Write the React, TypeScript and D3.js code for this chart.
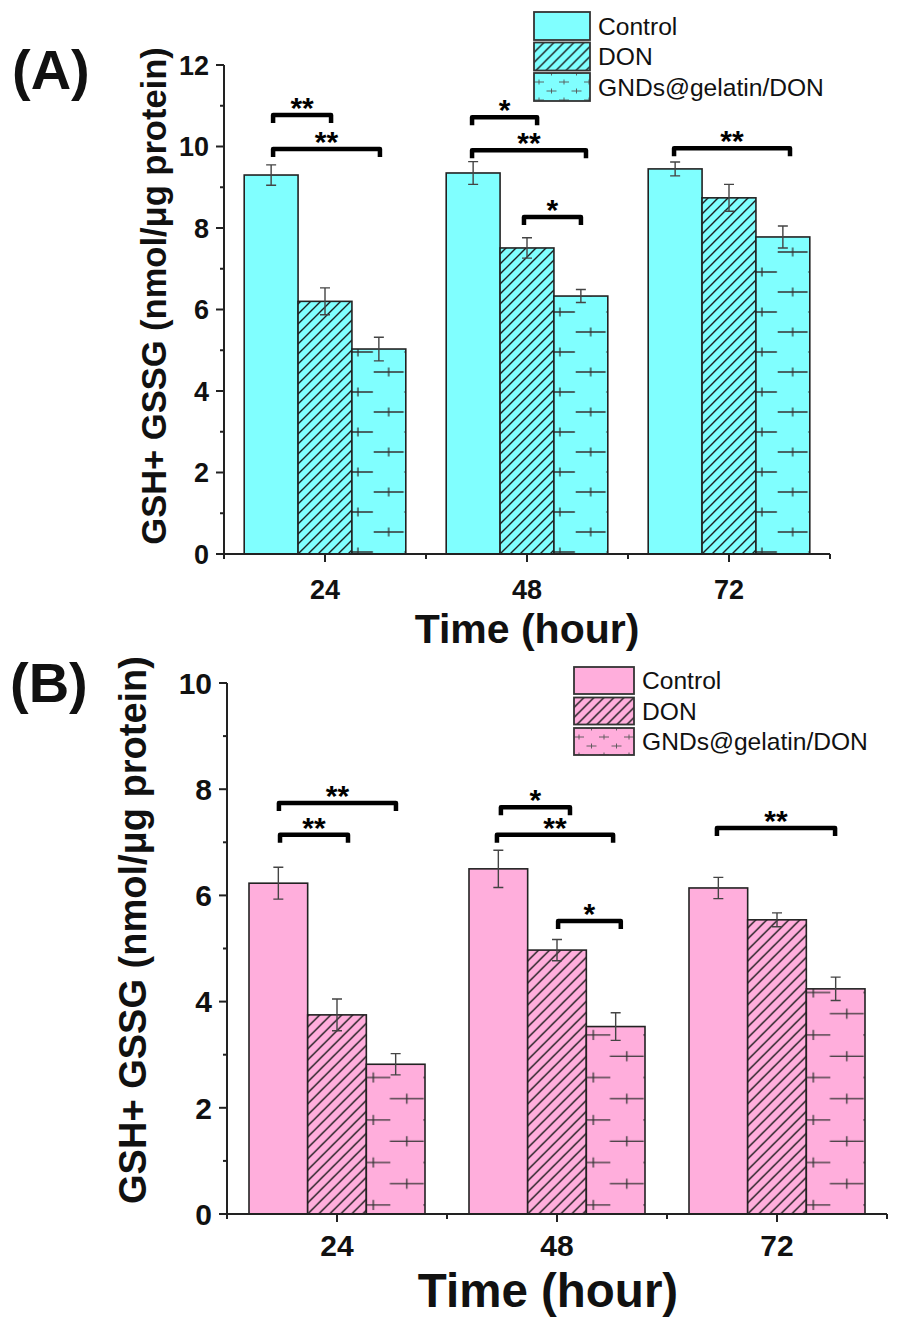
import React from 'react';
import * as d3 from 'd3';

// ---------- data ----------
const times = ['24', '48', '72'];
const seriesNames = ['Control', 'DON', 'GNDs@gelatin/DON'];

const aControl = [9.3, 9.35, 9.45];
const aControlErr = [0.25, 0.28, 0.17];
const aDON = [6.2, 7.51, 8.74];
const aDONErr = [0.33, 0.25, 0.33];
const aGND = [5.03, 6.33, 7.78];
const aGNDErr = [0.29, 0.16, 0.27];

const bControl = [6.23, 6.5, 6.14];
const bControlErr = [0.3, 0.35, 0.2];
const bDON = [3.75, 4.97, 5.54];
const bDONErr = [0.3, 0.2, 0.13];
const bGND = [2.82, 3.53, 4.24];
const bGNDErr = [0.2, 0.26, 0.22];

const aYTicks = [0, 2, 4, 6, 8, 10, 12];
const bYTicks = [0, 2, 4, 6, 8, 10];

// significance brackets: x in category units (24 -> 1, 48 -> 2, 72 -> 3), y in data units
const aSig = [
  { x1: 0.743, x2: 1.03, y: 10.77, label: '**' },
  { x1: 0.743, x2: 1.272, y: 9.94, label: '**' },
  { x1: 1.728, x2: 2.05, y: 10.72, label: '*' },
  { x1: 1.728, x2: 2.292, y: 9.91, label: '**' },
  { x1: 1.985, x2: 2.267, y: 8.27, label: '*' },
  { x1: 2.728, x2: 3.302, y: 9.96, label: '**' },
];
const bSig = [
  { x1: 0.741, x2: 1.05, y: 7.14, label: '**' },
  { x1: 0.736, x2: 1.268, y: 7.74, label: '**' },
  { x1: 1.745, x2: 2.059, y: 7.66, label: '*' },
  { x1: 1.727, x2: 2.255, y: 7.14, label: '**' },
  { x1: 2.005, x2: 2.29, y: 5.52, label: '*' },
  { x1: 2.727, x2: 3.264, y: 7.27, label: '**' },
];

const FONT = "'Liberation Sans', Arial, Helvetica, sans-serif";

type PanelCfg = {
  id: string;
  label: string;
  labelX: number;
  labelY: number;
  color: string;
  values: number[][];
  errors: number[][];
  yMax: number;
  yTicks: number[];
  sig: { x1: number; x2: number; y: number; label: string }[];
  xLeft: number;
  xRight: number;
  yBottom: number;
  yTop: number;
  tickFont: number;
  xTickDy: number;
  xTitleX: number;
  xTitleY: number;
  xTitleFont: number;
  yTitleX: number;
  yTitleY: number;
  yTitleFont: number;
  legendX: number;
  legendY: number;
  legendW: number;
  legendH: number;
  legendGap: number;
  hatch: number;
  crossW: number;
  crossH: number;
  crossDash: number;
  crossTick: number;
  crossX: number;
  crossYOff: number;
};

function crossPath(W: number, H: number, dash: number, tick: number, cx: number, cy: number) {
  const centers: [number, number][] = [];
  for (const dx of [-W, 0, W]) {
    for (const dy of [-H, 0, H]) {
      centers.push([cx + dx, cy + dy]);
      centers.push([cx + W / 2 + dx, cy - H / 2 + dy]);
    }
  }
  return centers
    .map(([x, y]) => `M${x - dash},${y}H${x + dash}M${x},${y - tick}V${y + tick}`)
    .join('');
}

function hatchPath(s: number) {
  return `M0,${s}L${s},0M${-s / 2},${s / 2}L${s / 2},${-s / 2}M${s / 2},${s * 1.5}L${s * 1.5},${s / 2}`;
}

function Panel({ c }: { c: PanelCfg }) {
  const x = d3.scaleLinear().domain([0.5, 3.5]).range([c.xLeft, c.xRight]);
  const y = d3.scaleLinear().domain([0, c.yMax]).range([c.yBottom, c.yTop]);
  const bw = 0.8 / 3;
  const bwPx = x(bw) - x(0);
  const minorY = d3.range(1, c.yMax, 2);
  const minorX = [0.5, 1.5, 2.5, 3.5];
  const hs = c.hatch;

  return (
    <g>
      <defs>
        <pattern id={`${c.id}-hatch`} patternUnits="userSpaceOnUse" width={hs} height={hs}>
          <path d={hatchPath(hs)} stroke="#1a1a1a" strokeWidth={1.4} />
        </pattern>
        <pattern id={`${c.id}-cross`} patternUnits="userSpaceOnUse" width={c.crossW} height={c.crossH}>
          <path
            d={crossPath(c.crossW, c.crossH, c.crossDash, c.crossTick, c.crossX, c.crossH + c.crossYOff)}
            stroke="#333"
            strokeWidth={1.3}
            fill="none"
          />
        </pattern>
        <pattern id={`${c.id}-lhatch`} patternUnits="userSpaceOnUse" width={10} height={10}>
          <path d={hatchPath(10)} stroke="#1a1a1a" strokeWidth={1.4} />
        </pattern>
        <pattern id={`${c.id}-lcross`} patternUnits="userSpaceOnUse" width={25} height={18}>
          <path d={crossPath(25, 18, 5, 2.5, 5, 9)} stroke="#555" strokeWidth={0.9} fill="none" />
        </pattern>
      </defs>

      {/* panel label */}
      <text x={c.labelX} y={c.labelY} fontFamily={FONT} fontWeight="bold" fontSize={56} fill="#111">
        {c.label}
      </text>

      {/* bars */}
      {times.map((t, i) =>
        c.values.map((vals, j) => {
          const v = vals[i];
          const bx = x(i + 1 - 0.4 + j * bw);
          const h = c.yBottom - y(v);
          const fillPat = j === 1 ? `url(#${c.id}-hatch)` : j === 2 ? `url(#${c.id}-cross)` : 'none';
          return (
            <g key={`${t}-${j}`} transform={`translate(${bx},${c.yBottom})`}>
              <rect x={0} y={-h} width={bwPx} height={h} fill={c.color} />
              {j > 0 && <rect x={0} y={-h} width={bwPx} height={h} fill={fillPat} />}
              <rect x={0} y={-h} width={bwPx} height={h} fill="none" stroke="#222" strokeWidth={1.6} />
            </g>
          );
        })
      )}

      {/* error bars */}
      {times.map((t, i) =>
        c.values.map((vals, j) => {
          const v = vals[i];
          const e = c.errors[j][i];
          const cx = x(i + 1 - 0.4 + (j + 0.5) * bw);
          return (
            <path
              key={`e-${t}-${j}`}
              d={`M${cx},${y(v + e)}V${y(v - e)}M${cx - 5},${y(v + e)}H${cx + 5}M${cx - 5},${y(v - e)}H${cx + 5}`}
              stroke="#444"
              strokeWidth={1.4}
              fill="none"
            />
          );
        })
      )}

      {/* axes */}
      <line x1={c.xLeft} x2={c.xLeft} y1={c.yBottom + 1} y2={c.yTop} stroke="#222" strokeWidth={2} />
      <line x1={c.xLeft - 1} x2={c.xRight} y1={c.yBottom} y2={c.yBottom} stroke="#222" strokeWidth={2} />
      {c.yTicks.map((t) => (
        <g key={`yt${t}`}>
          <line x1={c.xLeft - 8} x2={c.xLeft} y1={y(t)} y2={y(t)} stroke="#222" strokeWidth={2} />
          <text
            x={c.xLeft - 15}
            y={y(t)}
            dy="0.36em"
            textAnchor="end"
            fontFamily={FONT}
            fontWeight="bold"
            fontSize={c.tickFont}
            fill="#111"
          >
            {t}
          </text>
        </g>
      ))}
      {minorY.map((t) => (
        <line key={`ym${t}`} x1={c.xLeft - 4} x2={c.xLeft} y1={y(t)} y2={y(t)} stroke="#222" strokeWidth={2} />
      ))}
      {times.map((t, i) => (
        <g key={`xt${t}`}>
          <line x1={x(i + 1)} x2={x(i + 1)} y1={c.yBottom} y2={c.yBottom + 8} stroke="#222" strokeWidth={2} />
          <text
            x={x(i + 1)}
            y={c.yBottom + c.xTickDy}
            textAnchor="middle"
            fontFamily={FONT}
            fontWeight="bold"
            fontSize={c.tickFont}
            fill="#111"
          >
            {t}
          </text>
        </g>
      ))}
      {minorX.map((t) => (
        <line key={`xm${t}`} x1={x(t)} x2={x(t)} y1={c.yBottom} y2={c.yBottom + 5} stroke="#222" strokeWidth={2} />
      ))}

      {/* axis titles */}
      <text
        x={c.xTitleX}
        y={c.xTitleY}
        textAnchor="middle"
        fontFamily={FONT}
        fontWeight="bold"
        fontSize={c.xTitleFont}
        fill="#111"
      >
        Time (hour)
      </text>
      <text
        transform={`translate(${c.yTitleX},${c.yTitleY}) rotate(-90)`}
        textAnchor="middle"
        fontFamily={FONT}
        fontWeight="bold"
        fontSize={c.yTitleFont}
        fill="#111"
      >
        GSH+ GSSG (nmol/μg protein)
      </text>

      {/* significance */}
      {c.sig.map((s, k) => {
        const x1 = x(s.x1);
        const x2 = x(s.x2);
        const yy = y(s.y);
        return (
          <g key={`s${k}`}>
            <path
              d={`M${x1},${yy + 8}V${yy}H${x2}V${yy + 8}`}
              stroke="#000"
              strokeWidth={4.5}
              fill="none"
              strokeLinejoin="round"
            />
            <text
              x={(x1 + x2) / 2}
              y={yy + 3}
              textAnchor="middle"
              fontFamily={FONT}
              fontWeight="bold"
              fontSize={30}
              fill="#000"
            >
              {s.label}
            </text>
          </g>
        );
      })}

      {/* legend */}
      {seriesNames.map((name, j) => {
        const ly = c.legendY + j * (c.legendH + c.legendGap);
        const pat = j === 1 ? `url(#${c.id}-lhatch)` : j === 2 ? `url(#${c.id}-lcross)` : 'none';
        return (
          <g key={`l${j}`}>
            <g transform={`translate(${c.legendX},${ly})`}>
              <rect x={0} y={0} width={c.legendW} height={c.legendH} fill={c.color} />
              {j > 0 && <rect x={0} y={0} width={c.legendW} height={c.legendH} fill={pat} />}
              <rect x={0} y={0} width={c.legendW} height={c.legendH} fill="none" stroke="#333" strokeWidth={1.8} />
            </g>
            <text
              x={c.legendX + c.legendW + 8}
              y={ly + c.legendH / 2}
              dy="0.36em"
              fontFamily={FONT}
              fontSize={24.6}
              fill="#111"
            >
              {name}
            </text>
          </g>
        );
      })}
    </g>
  );
}

const panelA: PanelCfg = {
  id: 'pa',
  label: '(A)',
  labelX: 12,
  labelY: 89,
  color: '#80ffff',
  values: [aControl, aDON, aGND],
  errors: [aControlErr, aDONErr, aGNDErr],
  yMax: 12,
  yTicks: aYTicks,
  sig: aSig,
  xLeft: 224,
  xRight: 830,
  yBottom: 554,
  yTop: 65,
  tickFont: 27,
  xTickDy: 45,
  xTitleX: 527,
  xTitleY: 643,
  xTitleFont: 41,
  yTitleX: 166,
  yTitleY: 296,
  yTitleFont: 34.5,
  legendX: 534,
  legendY: 12,
  legendW: 56,
  legendH: 28,
  legendGap: 2.5,
  hatch: 10,
  crossW: 61.5,
  crossH: 40,
  crossDash: 15,
  crossTick: 4.5,
  crossX: 6,
  crossYOff: -2,
};

const panelB: PanelCfg = {
  id: 'pb',
  label: '(B)',
  labelX: 10,
  labelY: 702,
  color: '#ffaedc',
  values: [bControl, bDON, bGND],
  errors: [bControlErr, bDONErr, bGNDErr],
  yMax: 10,
  yTicks: bYTicks,
  sig: bSig,
  xLeft: 227,
  xRight: 887,
  yBottom: 1214,
  yTop: 683,
  tickFont: 30,
  xTickDy: 42,
  xTitleX: 548,
  xTitleY: 1307,
  xTitleFont: 47.5,
  yTitleX: 146,
  yTitleY: 930,
  yTitleFont: 38,
  legendX: 574,
  legendY: 667,
  legendW: 60,
  legendH: 27,
  legendGap: 3.5,
  hatch: 11,
  crossW: 67,
  crossH: 42.5,
  crossDash: 17,
  crossTick: 5,
  crossX: 7,
  crossYOff: -9,
};

export default function App() {
  return (
    <svg
      width={898}
      height={1317}
      viewBox="0 0 898 1317"
      style={{ position: 'absolute', left: 0, top: 0, background: '#fff' }}
    >
      <rect x={0} y={0} width={898} height={1317} fill="#fff" />
      <Panel c={panelA} />
      <Panel c={panelB} />
    </svg>
  );
}
